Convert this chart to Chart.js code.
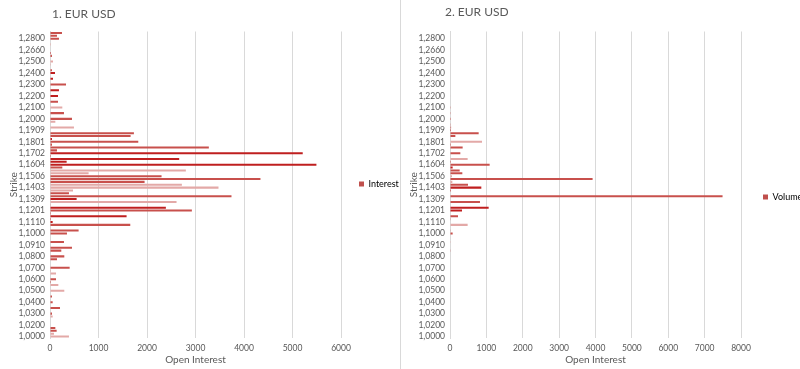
<!DOCTYPE html>
<html>
<head>
<meta charset="utf-8">
<script src="https://cdn.jsdelivr.net/npm/chart.js@4.4.0/dist/chart.umd.min.js"></script>
<style>
body { margin: 0; width: 800px; height: 369px; overflow: hidden; background: #fff; position: relative; font-family: Lato, "Liberation Sans", sans-serif; }
#caja1 { position: absolute; left: 0; top: 0; }
#caja2 { position: absolute; left: 400px; top: 0; }
#divisor { position: absolute; left: 400px; top: 0; width: 1px; height: 369px; background: #d9d9d9; }
.titulo { position: absolute; font-size: 12px; color: #595959; white-space: nowrap; }
</style>
</head>
<body>
<div id="caja1"><canvas id="grafico1" width="400" height="369"></canvas></div>
<div id="caja2"><canvas id="grafico2" width="420" height="369"></canvas></div>
<div id="divisor"></div>
<div class="titulo" style="left:52px; top:6px;">1. EUR USD</div>
<div class="titulo" style="left:445px; top:4px;">2. EUR USD</div>
<script>
// strikes, de arriba (mayor) a abajo (menor)
const strikes = [
	"1,3000", "1,2900", "1,2800", "1,2750", "1,2700", "1,2680", "1,2660", "1,2600", "1,2550", "1,2525",
	"1,2500", "1,2475", "1,2450", "1,2425", "1,2400", "1,2375", "1,2350", "1,2325", "1,2300", "1,2275",
	"1,2250", "1,2225", "1,2200", "1,2175", "1,2150", "1,2125", "1,2100", "1,2075", "1,2050", "1,2025",
	"1,2000", "1,1975", "1,1950", "1,1925", "1,1909", "1,1875", "1,1850", "1,1825", "1,1801", "1,1775",
	"1,1750", "1,1725", "1,1702", "1,1675", "1,1650", "1,1625", "1,1604", "1,1575", "1,1550", "1,1525",
	"1,1506", "1,1475", "1,1450", "1,1425", "1,1403", "1,1375", "1,1350", "1,1325", "1,1309", "1,1275",
	"1,1250", "1,1225", "1,1201", "1,1175", "1,1150", "1,1125", "1,1110", "1,1075", "1,1050", "1,1025",
	"1,1000", "1,0975", "1,0950", "1,0925", "1,0910", "1,0875", "1,0850", "1,0825", "1,0800", "1,0775",
	"1,0750", "1,0725", "1,0700", "1,0675", "1,0650", "1,0625", "1,0600", "1,0575", "1,0550", "1,0525",
	"1,0500", "1,0475", "1,0450", "1,0425", "1,0400", "1,0375", "1,0350", "1,0325", "1,0300", "1,0275",
	"1,0250", "1,0225", "1,0200", "1,0150", "1,0100", "1,0050", "1,0000"
];

// open interest (grafico 1)
const interest = [
	247, 144, 185, 0, 20, 0, 0, 20, 40, 0,
	62, 20, 0, 40, 103, 0, 62, 0, 330, 0,
	185, 0, 165, 0, 165, 0, 254, 0, 288, 0,
	453, 110, 0, 494, 0, 1730, 1662, 41, 1820, 41,
	3275, 144, 5211, 20, 2664, 343, 5493, 254, 2801, 796,
	2300, 4339, 1950, 2719, 3474, 474, 391, 3742, 549, 2609,
	20, 2389, 2925, 20, 1579, 20, 55, 1655, 0, 590,
	350, 0, 0, 288, 0, 453, 233, 0, 295, 144,
	0, 0, 405, 20, 124, 0, 124, 20, 172, 0,
	295, 0, 41, 0, 55, 0, 206, 0, 41, 55,
	0, 0, 0, 110, 137, 82, 391
];

// volumen (grafico 2)
const volume = [
	0, 0, 0, 0, 0, 0, 0, 0, 0, 0,
	0, 0, 0, 0, 0, 0, 0, 0, 0, 0,
	0, 0, 15, 0, 0, 0, 20, 0, 20, 0,
	25, 0, 20, 30, 27, 788, 147, 0, 880, 27,
	348, 0, 284, 0, 485, 27, 1090, 73, 266, 339,
	55, 3920, 64, 495, 861, 27, 0, 7493, 0, 824,
	0, 1063, 330, 0, 220, 9, 0, 485, 0, 18,
	73, 0, 0, 20, 0, 0, 10, 0, 0, 0,
	0, 0, 0, 0, 0, 0, 0, 0, 0, 0,
	0, 0, 0, 0, 0, 0, 0, 0, 0, 0,
	0, 0, 0, 0, 0, 0, 0
];

// tono de cada barra: o = oscuro, m = medio, c = claro
const tonoInterest = (
	"mmm.c..omm" + "cc.mo.o.m." + "o.o.m.c.m." + "mc.c.mmomm" + "mmomooomcc" +
	"mmmcccmmoc" + "comm" + "omomo.m" + "o..m.mc.mm" + "..ccm.mcoc" +
	"m.m.o.m.cc" + "...mccm"
).split("");
const tonoVolume = (
	".........." + ".........." + "..c...m.m." + "m.mmommmcm" + "m.m.cmmomm" +
	"cmcmoom.m." + ".oom.m.c.m" + "m..c..o..." + ".........." + ".........." + "......."
).split("");

const colores = { o: "#bf1f1f", m: "#c8504c", c: "#e3a9a7", ".": "#c8504c" };

Chart.defaults.font.family = 'Lato, "Liberation Sans", sans-serif';
Chart.defaults.color = "#595959";

// ancho y posicion vertical de la leyenda
const ajusteLeyenda = {
	id: "ajusteLeyenda",
	beforeInit(chart) {
		const fitOriginal = chart.legend.fit;
		chart.legend.fit = function () {
			fitOriginal.call(this);
			this.width = chart.options.plugins.ajusteLeyenda.ancho;
		};
	},
	afterLayout(chart, args, opts) {
		chart.legend.top = opts.centroY - 20;
		chart.legend.bottom = opts.centroY + 20;
	}
};

function crearGrafico(id, nombre, valores, tonos, maximo, ancho, centroY, padLeyenda) {
	const ctx = document.getElementById(id).getContext("2d");
	return new Chart(ctx, {
		type: "bar",
		data: {
			labels: strikes,
			datasets: [{
				label: nombre,
				data: valores,
				backgroundColor: tonos.map(t => colores[t]),
				borderWidth: 0,
				barPercentage: 0.72,
				categoryPercentage: 1
			}]
		},
		options: {
			indexAxis: "y",
			responsive: false,
			animation: false,
			layout: { padding: { top: 31.5, right: 0, bottom: 0, left: 0 } },
			plugins: {
				title: { display: false },
				tooltip: { enabled: false },
				legend: {
					position: "right",
					labels: {
						boxWidth: 5,
						boxHeight: 5,
						padding: padLeyenda,
						font: { size: 9 },
						color: "#595959",
						generateLabels: function (chart) {
							return [{ text: nombre, fillStyle: "#c0504d", strokeStyle: "#c0504d", lineWidth: 0, datasetIndex: 0 }];
						}
					}
				},
				ajusteLeyenda: { ancho: ancho, centroY: centroY }
			},
			scales: {
				x: {
					min: 0,
					max: maximo,
					ticks: {
						stepSize: 1000,
						padding: 5,
						font: { size: 8.5 },
						color: "#595959",
						callback: function (v) {
							return String(v);
						}
					},
					grid: { color: "#d9d9d9", drawTicks: false },
					border: { display: false },
					title: { display: true, text: "Open Interest", font: { size: 10 }, color: "#595959", padding: { top: 0, bottom: 3 } },
					afterFit: function (s) {
						s.height = 31;
						s.paddingRight = 0;
					}
				},
				y: {
					grid: { display: false, drawTicks: false },
					border: { display: true, color: "#d9d9d9" },
					ticks: {
						autoSkip: false,
						padding: 5,
						font: { size: 8.5 },
						color: "#595959",
						callback: function (v, i) {
							return (strikes.length - 1 - i) % 4 === 0 ? strikes[i] : "";
						}
					},
					title: { display: true, text: "Strike", font: { size: 10 }, color: "#595959", padding: { top: 8, bottom: 0 } },
					afterFit: function (s) {
						s.width = 50;
					}
				}
			}
		},
		plugins: [ajusteLeyenda]
	});
}

crearGrafico("grafico1", "Interest", interest, tonoInterest, 6000, 59, 184, 18);
crearGrafico("grafico2", "Volume", volume, tonoVolume, 8000, 79, 197, 22);
</script>
</body>
</html>
